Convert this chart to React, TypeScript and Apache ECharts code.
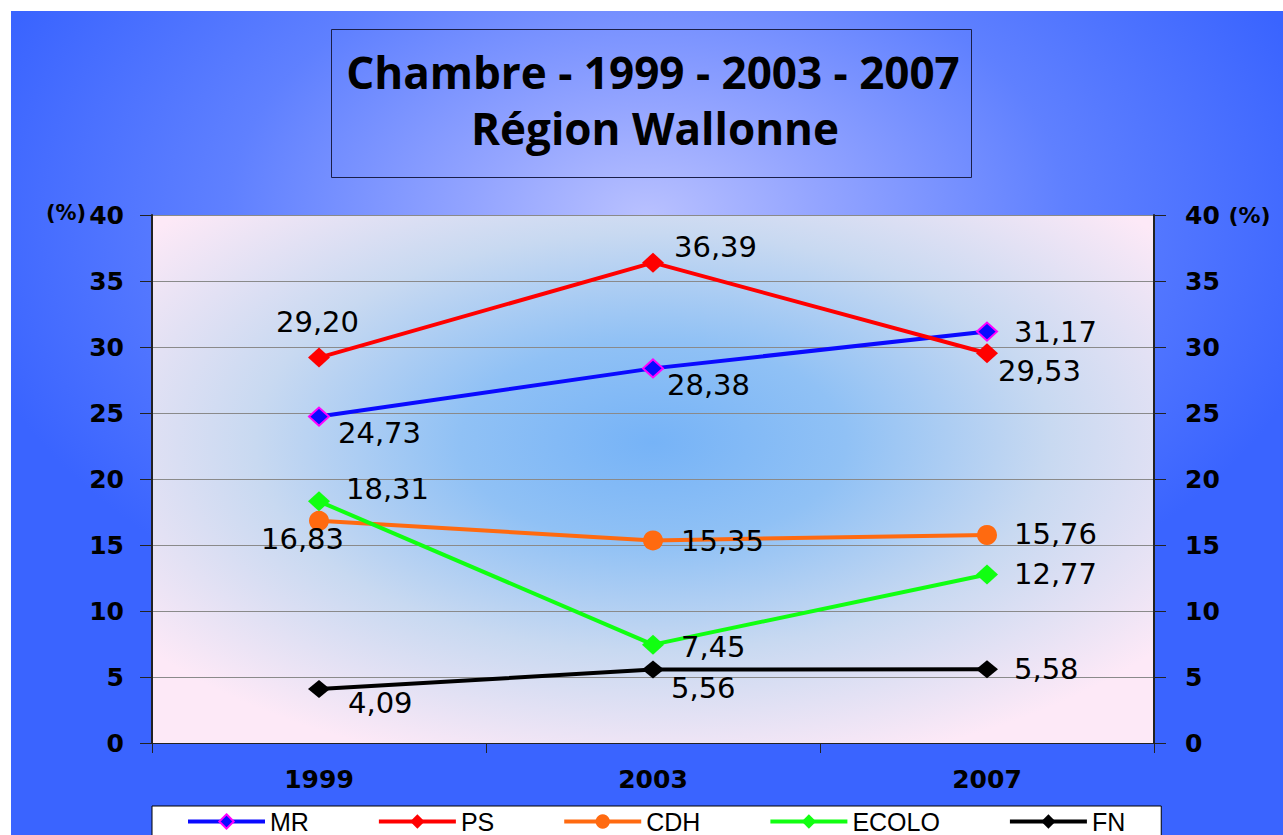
import React, { useEffect, useRef } from "react";
import * as echarts from "echarts";

const categories = ["1999", "2003", "2007"];
const mrValues = [24.73, 28.38, 31.17];
const psValues = [29.2, 36.39, 29.53];
const cdhValues = [16.83, 15.35, 15.76];
const ecoloValues = [18.31, 7.45, 12.77];
const fnValues = [4.09, 5.56, 5.58];
const yTicks = [0, 5, 10, 15, 20, 25, 30, 35, 40];
const legendNames = ["MR", "PS", "CDH", "ECOLO", "FN"];

// label placement (pixel offsets from point), styling only
const offMR = [[19, 16], [14, 17], [27, 0]];
const offPS = [[-43, -36], [21, -16], [11, 18]];
const offCDH = [[-58, 18], [28, 1], [27, -1]];
const offECOLO = [[27, -12], [28, 2], [27, 0]];
const offFN = [[29, 14], [18, 18], [27, 0]];

const LABEL_FONT = "'DejaVu Sans', sans-serif";
const AXIS_FONT = "'DejaVu Sans', sans-serif";
const LEGEND_FONT = "'Liberation Sans', Arial, sans-serif";

function mkData(vals: number[], offs: number[][]) {
  return vals.map((v, i) => ({ value: v, label: { offset: offs[i] } }));
}

function mkSeries(
  name: string,
  vals: number[],
  offs: number[][],
  color: string,
  symbol: string,
  symbolSize: any,
  border?: string
) {
  return {
    name,
    type: "line",
    data: mkData(vals, offs),
    symbol,
    symbolSize,
    lineStyle: { color, width: 4 },
    itemStyle: {
      color,
      borderColor: border || color,
      borderWidth: border ? 2 : 0,
    },
    label: {
      show: true,
      position: "inside",
      align: "left",
      verticalAlign: "middle",
      color: "#000",
      fontFamily: LABEL_FONT,
      fontSize: 29,
      formatter: (p: any) => Number(p.value).toFixed(2).replace(".", ","),
    },
    emphasis: { disabled: true },
  };
}

export default function App() {
  const ref = useRef<HTMLDivElement>(null);
  useEffect(() => {
    if (!ref.current) return;
    const chart = echarts.init(ref.current, null, { renderer: "svg" });
    const yAxisCommon = {
      type: "value",
      min: yTicks[0],
      max: yTicks[yTicks.length - 1],
      interval: 5,
      axisLine: { show: true, lineStyle: { color: "#222", width: 2 } },
      axisTick: { show: true, inside: false, length: 12, lineStyle: { color: "#222", width: 1 } },
    };
    chart.setOption({
      animation: false,
      graphic: [
        {
          type: "rect",
          z: -10,
          silent: true,
          shape: { x: 11, y: 11, width: 1272, height: 824 },
          style: {
            fill: {
              type: "radial",
              x: 0.5,
              y: 0.25,
              r: 0.55,
              colorStops: [
                { offset: 0, color: "#b9c1ff" },
                { offset: 0.25, color: "#93a4ff" },
                { offset: 0.6, color: "#5f80ff" },
                { offset: 1, color: "#3a64ff" },
              ],
            },
          },
        },
        {
          type: "rect",
          z: -9,
          silent: true,
          shape: { x: 152, y: 215, width: 1002, height: 528 },
          style: {
            fill: {
              type: "radial",
              x: 0.5,
              y: 0.43,
              r: 0.64,
              colorStops: [
                { offset: 0, color: "#76b3f7" },
                { offset: 0.3, color: "#90c1f5" },
                { offset: 0.62, color: "#c8d9f1" },
                { offset: 1, color: "#fde9f7" },
              ],
            },
          },
        },
        {
          type: "rect",
          z: -8,
          silent: true,
          shape: { x: 331.5, y: 29.5, width: 640, height: 148 },
          style: { fill: "transparent", stroke: "#1a1f4a", lineWidth: 1 },
        },
        {
          type: "text",
          z: 10,
          x: 653,
          y: 72,
          style: {
            text: "Chambre - 1999 - 2003 - 2007",
            fill: "#000",
            font: "bold 44px 'Open Sans', Lato, sans-serif",
            align: "center",
            verticalAlign: "middle",
          },
        },
        {
          type: "text",
          z: 10,
          x: 655,
          y: 128,
          style: {
            text: "Région Wallonne",
            fill: "#000",
            font: "bold 44px 'Open Sans', Lato, sans-serif",
            align: "center",
            verticalAlign: "middle",
          },
        },
      ],
      grid: { left: 152, top: 215, width: 1002, height: 528, containLabel: false },
      legend: {
        left: 152,
        top: 806,
        backgroundColor: "#fff",
        borderColor: "#000",
        borderWidth: 1,
        borderRadius: 0,
        padding: [3, 36, 12, 34],
        itemWidth: 77,
        itemHeight: 18,
        itemGap: 68,
        lineStyle: { width: 4 },
        textStyle: {
          fontFamily: LEGEND_FONT,
          fontSize: 25,
          lineHeight: 20,
          color: "#000",
        },
        selectedMode: false,
        data: legendNames,
      },
      xAxis: {
        type: "category",
        data: categories,
        boundaryGap: true,
        axisLine: { show: true, lineStyle: { color: "#222", width: 1 } },
        axisTick: { show: true, length: 10, lineStyle: { color: "#222" } },
        axisLabel: {
          margin: 24,
          color: "#000",
          fontFamily: AXIS_FONT,
          fontWeight: "bold",
          fontSize: 25,
        },
        splitLine: { show: false },
      },
      yAxis: [
        {
          ...yAxisCommon,
          position: "left",
          splitLine: { show: true, lineStyle: { color: "#8a8a8a", width: 1 } },
          axisLabel: {
            margin: 28,
            color: "#000",
            fontFamily: AXIS_FONT,
            fontWeight: "bold",
            fontSize: 25,
            formatter: (v: number) => (v === 40 ? "{p|(%)}{v|40}" : "{v|" + v + "}"),
            rich: {
              v: { fontFamily: AXIS_FONT, fontWeight: "bold", fontSize: 25, color: "#000" },
              p: { fontFamily: AXIS_FONT, fontWeight: "bold", fontSize: 21, color: "#000", padding: [0, 3, 4, 0] },
            },
          },
        },
        {
          ...yAxisCommon,
          position: "right",
          splitLine: { show: false },
          axisLabel: {
            margin: 31,
            color: "#000",
            fontFamily: AXIS_FONT,
            fontWeight: "bold",
            fontSize: 25,
            formatter: (v: number) => (v === 40 ? "{v|40} {p|(%)}" : "{v|" + v + "}"),
            rich: {
              v: { fontFamily: AXIS_FONT, fontWeight: "bold", fontSize: 25, color: "#000" },
              p: { fontFamily: AXIS_FONT, fontWeight: "bold", fontSize: 22, color: "#000" },
            },
          },
        },
      ],
      series: [
        mkSeries("MR", mrValues, offMR, "#0a0aff", "diamond", [20, 18], "#ff00ff"),
        mkSeries("PS", psValues, offPS, "#ff0000", "diamond", [22, 20]),
        mkSeries("CDH", cdhValues, offCDH, "#ff6a10", "circle", 20),
        mkSeries("ECOLO", ecoloValues, offECOLO, "#11ff11", "diamond", [22, 20]),
        mkSeries("FN", fnValues, offFN, "#000000", "diamond", [22, 18]),
      ],
    });
    return () => chart.dispose();
  }, []);
  return (
    <div
      ref={ref}
      style={{ position: "absolute", left: 0, top: 0, width: 1283, height: 835, background: "#fff" }}
    />
  );
}
